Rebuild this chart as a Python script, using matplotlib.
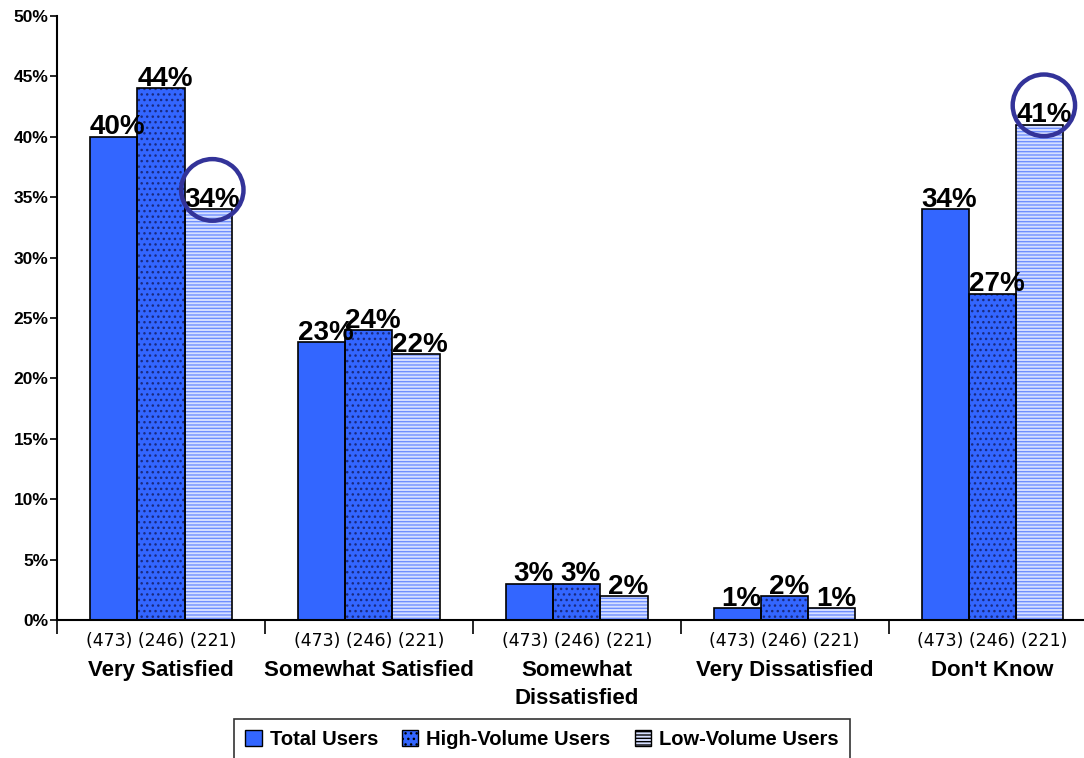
import matplotlib.pyplot as plt
from matplotlib.patches import Ellipse
import numpy as np

plt.rcParams["font.family"] = ["Liberation Sans", "DejaVu Sans"]

categories = ["Very Satisfied", "Somewhat Satisfied", "Somewhat\nDissatisfied",
              "Very Dissatisfied", "Don't Know"]
series_names = ["Total Users", "High-Volume Users", "Low-Volume Users"]
total = [40, 23, 3, 1, 34]
high = [44, 24, 3, 2, 27]
low = [34, 22, 2, 1, 41]
sample_sizes = ["(473)", "(246)", "(221)"]
circled = [(0, 2), (4, 2)]  # (category, series) highlighted

BLUE = "#3366ff"
NAVY = "#333399"

fig = plt.figure(figsize=(10.84, 7.58), dpi=100)
ax = fig.add_axes([0.0526, 0.182, 0.9474, 0.797])

x = np.arange(len(categories))
w = 0.227
styles = [
    dict(color=BLUE, hatch=None, hcolor=None),
    dict(color=BLUE, hatch="...", hcolor="#1a2a80"),
    dict(color="#d6dfff", hatch="-----", hcolor="#6f8fff"),
]
values = [total, high, low]

for i, (vals, st) in enumerate(zip(values, styles)):
    pos = x + (i - 1) * w
    if st["hatch"]:
        ax.bar(pos, vals, w, color=st["color"], hatch=st["hatch"],
               edgecolor=st["hcolor"], linewidth=0, zorder=2)
    else:
        ax.bar(pos, vals, w, color=st["color"], linewidth=0, zorder=2)
    ax.bar(pos, vals, w, fill=False, edgecolor="black", linewidth=1.2, zorder=3)
    for xp, v in zip(pos, vals):
        ax.text(xp + 0.02, v - 0.3, f"{v}%", ha="center", va="bottom",
                fontsize=20, fontweight="bold", zorder=5)

for c, s in circled:
    v = values[s][c]
    ax.add_patch(Ellipse((x[c] + (s - 1) * w + 0.02, v + 1.6), 0.3, 5.1,
                         fill=False, edgecolor=NAVY, linewidth=3.2, zorder=6))

for xc, name in zip(x, categories):
    ax.text(xc, -1.0, " ".join(sample_sizes), ha="center", va="top",
            fontsize=12.5, family="DejaVu Sans")
    ax.text(xc, -3.3, name, ha="center", va="top", fontsize=16,
            fontweight="bold", linespacing=1.45)

ax.set_xlim(-0.5, 4.44)
ax.set_ylim(0, 50)
ax.set_yticks(np.arange(0, 51, 5))
ax.set_yticklabels([f"{t}%" for t in range(0, 51, 5)], fontsize=12.5,
                   fontweight="bold")
ax.set_xticks(np.arange(-0.5, 4.5, 1))
ax.set_xticklabels([])
ax.tick_params(axis="x", length=10, width=1.2, direction="out")
ax.tick_params(axis="y", length=5, width=1.2, direction="out", pad=1)
for side in ["top", "right"]:
    ax.spines[side].set_visible(False)
for side in ["left", "bottom"]:
    ax.spines[side].set_linewidth(1.5)

handles = []
for name, st in zip(series_names, styles):
    handles.append(plt.Rectangle((0, 0), 1, 1, facecolor=st["color"],
                                 hatch=st["hatch"], edgecolor="black",
                                 linewidth=1, label=name))
leg = fig.legend(handles=handles, loc="lower center", ncol=3,
                 bbox_to_anchor=(0.5, -0.016), frameon=True, fancybox=False,
                 edgecolor="black", handlelength=0.8,
                 handleheight=0.8, handletextpad=0.4, columnspacing=1.2,
                 borderpad=0.55, prop={"weight": "bold", "size": 14.5})
leg.get_frame().set_linewidth(1.2)

fig.savefig("out.png", dpi=100)
